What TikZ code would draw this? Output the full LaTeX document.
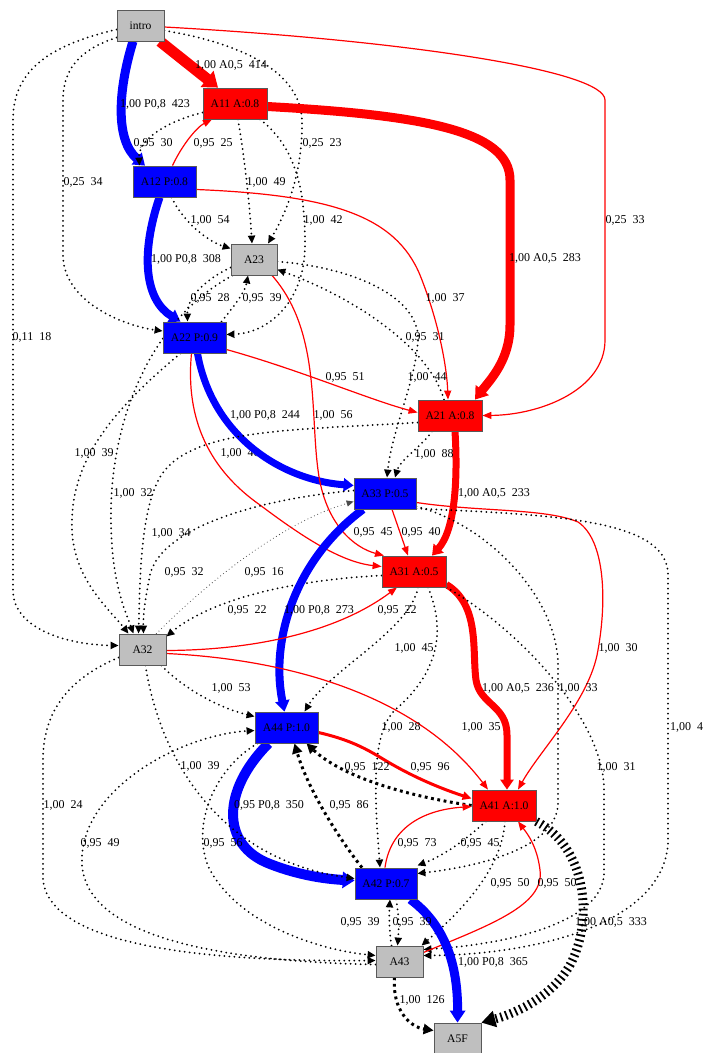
\documentclass[tikz,border=0pt]{standalone}
\usepackage{fontspec}
\setmainfont{Liberation Serif}
\usetikzlibrary{arrows.meta}
\pgfdeclarelayer{bg}
\pgfsetlayers{bg,main}
\tikzset{
  nd/.style={draw=black!65, line width=0.8, minimum height=31, inner sep=0, font=\fontsize{11.6}{13}\selectfont},
  gnode/.style={nd, fill=black!25, minimum width=47},
  rnode/.style={nd, fill=red, minimum width=64},
  bnode/.style={nd, fill=blue, minimum width=63},
  lab/.style={inner sep=0, font=\fontsize{12}{14}\selectfont},
  rthin/.style={draw=red, line width=1.2, -{Triangle[length=9,width=7]}},
  rthick/.style={draw=red},
  bthick/.style={draw=blue},
  dotl/.style={draw=black, line width=2, line cap=round, dash pattern=on 0pt off 5pt, -{Triangle[length=8,width=7]}},
  dotthin/.style={draw=black!70, line width=1.1, line cap=round, dash pattern=on 0pt off 3.6pt, -{Triangle[length=7,width=6]}},
  hdot/.style={draw=black, line width=3, dash pattern=on 2.8pt off 3.6pt, -{Triangle[length=10,width=10]}},
  hdash/.style={draw=black, line width=9, dash pattern=on 1.8pt off 3.4pt, -{Triangle[length=14,width=16]}}
}
\begin{document}
\begin{tikzpicture}[x=1pt,y=-1pt]
\useasboundingbox (0,0) rectangle (704,1053);
% nodes
\node[gnode] (intro) at (140.5,25.5) {intro};
\node[rnode] (A11) at (235,103.5) {A11 A:0.8};
\node[bnode] (A12) at (164.5,181.5) {A12 P:0.8};
\node[gnode, minimum width=46] (A23) at (254,259.5) {A23};
\node[bnode] (A22) at (194.5,337.5) {A22 P:0.9};
\node[rnode] (A21) at (450,415.5) {A21 A:0.8};
\node[bnode, minimum width=62] (A33) at (385,493.5) {A33 P:0.5};
\node[rnode] (A31) at (414,571.5) {A31 A:0.5};
\node[gnode] (A32) at (142.5,649.5) {A32};
\node[bnode] (A44) at (286.5,727.5) {A44 P:1.0};
\node[rnode] (A41) at (504,805.5) {A41 A:1.0};
\node[bnode, minimum width=62] (A42) at (386,883.5) {A42 P:0.7};
\node[gnode] (A43) at (399.5,961.5) {A43};
\node[gnode] (A5F) at (457.5,1038.5) {A5F};
\begin{pgfonlayer}{bg}
\fill[white] (0,0) rectangle (704,1053);
\node[lab] (l22) at (240,453) {1,00\ \ 40};
\draw[rthick, line width=11, -{Triangle[length=14,width=20]}] ([shift={(19.5,0)}]intro.south) -- ([shift={(-17,0)}]A11.north);
\draw[bthick, line width=9, -{Triangle[length=11,width=15]}] ([shift={(-7.5,0)}]intro.south) .. controls (118,90) and (115,140) .. ([shift={(-19.5,0)}]A12.north);
\draw[rthin] ([shift={(0,1.5)}]intro.east) .. controls (400,40) and (605,70) .. (605,100) -- (605,340) .. controls (605,390) and (540,415) .. (A21.east);
\draw[dotl] ([shift={(0,5)}]intro.east) .. controls (250,45) and (300,75) .. (302,120) .. controls (303,175) and (285,215) .. ([shift={(14,0)}]A23.north);
\draw[dotl] ([shift={(0,12)}]intro.west) .. controls (85,48) and (63,65) .. (63,100) -- (63,255) .. controls (63,300) and (120,325) .. ([shift={(0,-6.5)}]A22.west);
\draw[dotl] ([shift={(0,4)}]intro.west) .. controls (50,45) and (13,70) .. (13,120) -- (13,590) .. controls (13,630) and (70,645) .. ([shift={(0,-4)}]A32.west);
\draw[rthick, line width=9, -{Triangle[length=12,width=16]}] ([shift={(0,3)}]A11.east) .. controls (420,115) and (510,130) .. (510,180) -- (510,325) .. controls (510,360) and (490,380) .. ([shift={(25,0)}]A21.north);
\draw[dotl] ([shift={(0,9)}]A11.west) .. controls (165,122) and (138,140) .. ([shift={(-25,0)}]A12.north);
\draw[rthin] ([shift={(8,0)}]A12.north) .. controls (182,145) and (197,127) .. ([shift={(-23,0)}]A11.south);
\draw[dotl] ([shift={(3,0)}]A11.south) .. controls (245,160) and (250,210) .. ([shift={(-2,0)}]A23.north);
\draw[dotl] ([shift={(25,0)}]A11.south) .. controls (300,150) and (305,200) .. (305,245) .. controls (305,300) and (270,333) .. ([shift={(0,-3)}]A22.east);
\draw[dotl] ([shift={(7,0)}]A12.south) .. controls (185,225) and (210,242) .. ([shift={(0,-11)}]A23.west);
\draw[bthick, line width=8, -{Triangle[length=11,width=14]}] ([shift={(-5,0)}]A12.south) .. controls (140,255) and (145,300) .. ([shift={(-14,0)}]A22.north);
\draw[rthin] ([shift={(0,8)}]A12.east) .. controls (330,195) and (395,215) .. (420,275) .. controls (440,325) and (447,370) .. ([shift={(-2,0)}]A21.north);
\draw[dotl] ([shift={(0,8)}]A23.west) .. controls (205,280) and (187,297) .. ([shift={(-7,0)}]A22.north);
\draw[dotl] ([shift={(27,0)}]A22.north) .. controls (235,305) and (245,292) .. ([shift={(-6,0)}]A23.south);
\draw[dotl] ([shift={(0,2)}]A23.east) .. controls (360,268) and (420,300) .. (418,340) .. controls (416,380) and (392,430) .. ([shift={(2,0)}]A33.north);
\draw[dotl] ([shift={(-6,0)}]A21.north) .. controls (430,350) and (360,300) .. ([shift={(0,10)}]A23.east);
\draw[rthin] ([shift={(0,12)}]A22.east) .. controls (300,370) and (370,400) .. ([shift={(0,-3)}]A21.west);
\draw[bthick, line width=7, -{Triangle[length=10,width=13]}] ([shift={(3,0)}]A22.south) .. controls (212,435) and (280,480) .. ([shift={(0,-8)}]A33.west);
\draw[rthin] ([shift={(18,0)}]A23.south) .. controls (320,330) and (310,410) .. (318,470) .. controls (325,525) and (355,548) .. ([shift={(-30,0)}]A31.north);
\draw[rthin] ([shift={(-3,0)}]A22.south) .. controls (185,420) and (210,470) .. (260,505) .. controls (300,535) and (340,562) .. ([shift={(0,-5)}]A31.west);
\draw[dotl] ([shift={(-18,0)}]A21.south) .. controls (420,448) and (400,460) .. ([shift={(10,0)}]A33.north);
\draw[rthick, line width=7, -{Triangle[length=10,width=13]}] ([shift={(5,0)}]A21.south) .. controls (458,480) and (455,530) .. ([shift={(18,0)}]A31.north);
\draw[dotl] ([shift={(0,7)}]A21.west) .. controls (300,430) and (200,428) .. (165,470) .. controls (140,500) and (140,580) .. ([shift={(-4,0)}]A32.north);
\draw[dotl] ([shift={(2,0)}]A23.south west) .. controls (150,320) and (112,420) .. (111,510) .. controls (110,580) and (125,610) .. ([shift={(-9,0)}]A32.north);
\draw[dotl] ([shift={(-14,0)}]A22.south) .. controls (100,420) and (70,470) .. (72,530) .. controls (74,580) and (110,610) .. ([shift={(-14,0)}]A32.north);
\draw[dotl] ([shift={(0,-3)}]A33.west) .. controls (250,500) and (160,530) .. (150,575) .. controls (145,600) and (143,615) .. ([shift={(1,0)}]A32.north);
\draw[dotthin] ([shift={(-10,0)}]A32.north east) .. controls (220,570) and (290,520) .. ([shift={(0,8)}]A33.west);
\draw[rthin] ([shift={(7,0)}]A33.south) -- ([shift={(-6,0)}]A31.north);
\draw[dotl] ([shift={(0,4)}]A31.west) .. controls (290,580) and (210,600) .. ([shift={(0,-13)}]A32.east);
\draw[bthick, line width=8, -{Triangle[length=11,width=14]}] ([shift={(-22,0)}]A33.south) .. controls (295,560) and (270,640) .. ([shift={(-2,0)}]A44.north);
\draw[rthin] ([shift={(0,1)}]A32.east) .. controls (260,650) and (340,630) .. ([shift={(-17,0)}]A31.south);
\draw[rthin] ([shift={(0,4)}]A32.east) .. controls (300,660) and (420,700) .. ([shift={(-16,0)}]A41.north);
\draw[dotl] ([shift={(-5,0)}]A32.south east) .. controls (185,690) and (220,708) .. ([shift={(0,-11)}]A44.west);
\draw[dotl] ([shift={(4,0)}]A31.south) .. controls (410,630) and (330,670) .. ([shift={(18,0)}]A44.north);
\draw[dotl] ([shift={(14,0)}]A31.south) .. controls (450,640) and (430,680) .. (395,710) .. controls (370,735) and (375,800) .. ([shift={(-6,0)}]A42.north);
\draw[rthick, line width=7, -{Triangle[length=10,width=13]}] ([shift={(0,13)}]A31.east) .. controls (480,605) and (472,650) .. (476,680) .. controls (480,705) and (507,705) .. (507,735) -- ([shift={(3,0)}]A41.north);
\draw[rthin] ([shift={(0,9)}]A33.east) .. controls (480,512) and (545,508) .. (578,522) .. controls (605,540) and (607,600) .. (598,650) .. controls (590,700) and (540,750) .. ([shift={(14,0)}]A41.north);
\draw[dotl] ([shift={(0,13)}]A33.east) .. controls (490,525) and (558,600) .. (558,665) -- (558,805) .. controls (555,845) and (490,865) .. ([shift={(0,-10)}]A42.east);
\draw[dotl] (A31.south east) .. controls (520,630) and (604,720) .. (604,790) -- (604,875) .. controls (600,925) and (500,945) .. ([shift={(0,-12)}]A43.east);
\draw[dotl] ([shift={(0,15)}]A33.east) .. controls (560,515) and (668,520) .. (668,575) -- (668,845) .. controls (660,930) and (520,955) .. ([shift={(0,-6)}]A43.east);
\draw[rthick, line width=3, -{Triangle[length=9,width=8]}] ([shift={(0,5)}]A44.east) .. controls (360,742) and (375,755) .. (395,766) .. controls (420,780) and (445,790) .. ([shift={(0,-7)}]A41.west);
\draw[hdot] (A41.west) .. controls (400,795) and (340,775) .. ([shift={(20,0)}]A44.south);
\draw[bthick, line width=10, -{Triangle[length=12,width=16]}] ([shift={(-18,0)}]A44.south) .. controls (222,790) and (220,845) .. (270,864) .. controls (298,875) and (325,879) .. ([shift={(0,-3)}]A42.west);
\draw[hdot] ([shift={(-24,0)}]A42.north) .. controls (340,840) and (308,790) .. ([shift={(8,0)}]A44.south);
\draw[dotl] ([shift={(3,0)}]A32.south) .. controls (160,760) and (220,860) .. ([shift={(0,-5)}]A42.west);
\draw[dotl] ([shift={(3,0)}]A44.south west) .. controls (212,770) and (190,830) .. (210,870) .. controls (240,925) and (320,950) .. ([shift={(0,-6)}]A43.west);
\draw[dotl] ([shift={(0,3)}]A43.west) .. controls (250,962) and (88,945) .. (82,865) .. controls (78,790) and (180,735) .. ([shift={(0,3)}]A44.west);
\draw[dotl] ([shift={(0,8)}]A32.west) .. controls (65,680) and (43,715) .. (43,760) -- (43,880) .. controls (50,945) and (200,962) .. ([shift={(0,-1)}]A43.west);
\draw[rthin] ([shift={(-1,0)}]A42.north) .. controls (390,830) and (420,810) .. ([shift={(0,1)}]A41.west);
\draw[dotl] ([shift={(-18,0)}]A41.south) .. controls (465,840) and (445,855) .. ([shift={(0,-18)}]A42.east);
\draw[dotl] ([shift={(1,0)}]A41.south) .. controls (502,870) and (460,912) .. ([shift={(22,0)}]A43.north);
\draw[rthin] ([shift={(0,-9)}]A43.east) .. controls (490,925) and (545,905) .. (540,870) .. controls (537,845) and (526,832) .. ([shift={(14,0)}]A41.south);
\draw[hdash] (A41.south east) .. controls (590,850) and (592,925) .. (570,965) .. controls (550,1000) and (510,1015) .. (A5F.north east);
\draw[dotl] ([shift={(-8,0)}]A43.north) .. controls (389,930) and (389,915) .. ([shift={(4,0)}]A42.south);
\draw[dotl] ([shift={(10,0)}]A42.south) .. controls (399,915) and (399,930) .. ([shift={(-2,0)}]A43.north);
\draw[bthick, line width=9, -{Triangle[length=12,width=15]}] ([shift={(-7,0)}]A42.south east) .. controls (445,925) and (458,965) .. (A5F.north);
\draw[hdot] ([shift={(-5,0)}]A43.south) .. controls (392,1010) and (410,1027) .. ([shift={(0,-8)}]A5F.west);
\end{pgfonlayer}
% labels
\node[lab] (l1) at (231,65) {1,00 A0,5\ \ 414};
\node[lab] (l2) at (155,104) {1,00 P0,8\ \ 423};
\node[lab] (l3) at (153,143) {0,95\ \ 30};
\node[lab] (l4) at (213,143) {0,95\ \ 25};
\node[lab] (l5) at (322,143) {0,25\ \ 23};
\node[lab] (l6) at (83,182) {0,25\ \ 34};
\node[lab] (l7) at (266,182) {1,00\ \ 49};
\node[lab] (l8) at (210,220) {1,00\ \ 54};
\node[lab] (l9) at (323,220) {1,00\ \ 42};
\node[lab] (l10) at (186,259) {1,00 P0,8\ \ 308};
\node[lab] (l11) at (625,220) {0,25\ \ 33};
\node[lab] (l12) at (545,258) {1,00 A0,5\ \ 283};
\node[lab] (l13) at (210,298) {0,95\ \ 28};
\node[lab] (l14) at (262,298) {0,95\ \ 39};
\node[lab] (l15) at (32,337) {0,11\ \ 18};
\node[lab] (l16) at (445,298) {1,00\ \ 37};
\node[lab] (l17) at (425,337) {0,95\ \ 31};
\node[lab] (l18) at (345,377) {0,95\ \ 51};
\node[lab] (l19) at (427,377) {1,00\ \ 44};
\node[lab] (l20) at (265,415) {1,00 P0,8\ \ 244};
\node[lab] (l21) at (333,415) {1,00\ \ 56};
\node[lab] (l23) at (94,453) {1,00\ \ 39};
\node[lab] (l24) at (434,454) {1,00\ \ 88};
\node[lab] (l25) at (494,493) {1,00 A0,5\ \ 233};
\node[lab] (l26) at (133,493) {1,00\ \ 32};
\node[lab] (l27) at (171,533) {1,00\ \ 34};
\node[lab] (l28) at (373,532) {0,95\ \ 45};
\node[lab] (l29) at (421,532) {0,95\ \ 40};
\node[lab] (l30) at (184,572) {0,95\ \ 32};
\node[lab] (l31) at (264,572) {0,95\ \ 16};
\node[lab] (l32) at (247,610) {0,95\ \ 22};
\node[lab] (l33) at (319,610) {1,00 P0,8\ \ 273};
\node[lab] (l34) at (397,610) {0,95\ \ 22};
\node[lab] (l35) at (414,648) {1,00\ \ 45};
\node[lab] (l36) at (618,648) {1,00\ \ 30};
\node[lab] (l37) at (518,688) {1,00 A0,5\ \ 236};
\node[lab] (l38) at (578,688) {1,00\ \ 33};
\node[lab] (l39) at (231,688) {1,00\ \ 53};
\node[lab] (l40) at (401,727) {1,00\ \ 28};
\node[lab] (l41) at (481,727) {1,00\ \ 35};
\node[lab, anchor=west] (l42) at (670,727) {1,00\ \ 4};
\node[lab] (l43) at (616,767) {1,00\ \ 31};
\node[lab] (l44) at (367,767) {0,95\ \ 122};
\node[lab] (l45) at (430,767) {0,95\ \ 96};
\node[lab] (l46) at (200,766) {1,00\ \ 39};
\node[lab] (l47) at (63,805) {1,00\ \ 24};
\node[lab] (l48) at (269,805) {0,95 P0,8\ \ 350};
\node[lab] (l49) at (349,805) {0,95\ \ 86};
\node[lab] (l50) at (100,843) {0,95\ \ 49};
\node[lab] (l51) at (223,843) {0,95\ \ 56};
\node[lab] (l52) at (417,843) {0,95\ \ 73};
\node[lab] (l53) at (480,843) {0,95\ \ 45};
\node[lab] (l54) at (510,883) {0,95\ \ 50};
\node[lab] (l55) at (557,883) {0,95\ \ 50};
\node[lab] (l56) at (360,922) {0,95\ \ 39};
\node[lab] (l57) at (412,922) {0,95\ \ 39};
\node[lab] (l58) at (611,922) {1,00 A0,5\ \ 333};
\node[lab] (l59) at (493,962) {1,00 P0,8\ \ 365};
\node[lab] (l60) at (422,1000) {1,00\ \ 126};
\end{tikzpicture}
\end{document}
